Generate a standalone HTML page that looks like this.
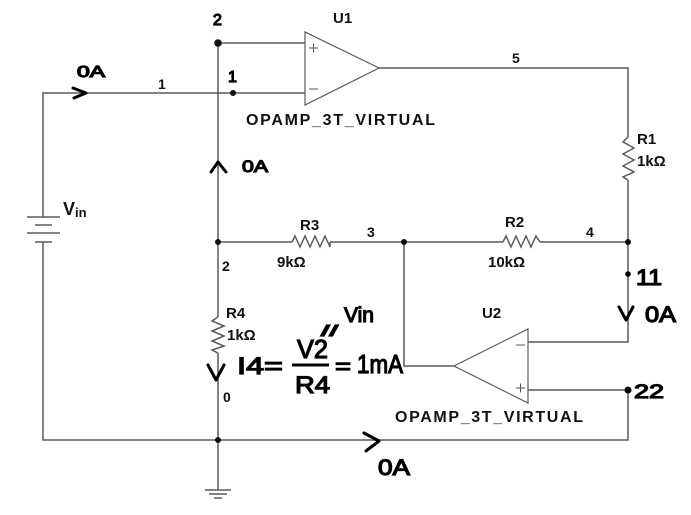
<!DOCTYPE html>
<html>
<head>
<meta charset="utf-8">
<style>
html,body{margin:0;padding:0;background:#fff;}
svg{display:block;}
.w{stroke:#5a5a5a;stroke-width:1.5;fill:none;}
.lbl{font-family:"Liberation Sans",Arial,sans-serif;font-weight:bold;font-size:15px;fill:#111;}
.hw{font-family:"Liberation Sans",Arial,sans-serif;font-weight:normal;fill:#000;stroke:#000;stroke-width:1.2;}
.hp{stroke:#000;stroke-width:3;fill:none;stroke-linecap:round;stroke-linejoin:round;}
</style>
</head>
<body>
<svg width="691" height="515" viewBox="0 0 691 515" xmlns="http://www.w3.org/2000/svg">
<!-- wires -->
<polyline class="w" points="43,217 43,93 305,93"/>
<polyline class="w" points="43,242 43,440 628,440 628,390"/>
<line class="w" x1="218" y1="43" x2="218" y2="317"/>
<line class="w" x1="218" y1="353" x2="218" y2="490"/>
<line class="w" x1="218" y1="43" x2="305" y2="43"/>
<polyline class="w" points="378,68 628,68 628,137"/>
<polyline class="w" points="628,180 628,342 528,342"/>
<line class="w" x1="218" y1="242" x2="292" y2="242"/>
<line class="w" x1="330" y1="242" x2="503" y2="242"/>
<line class="w" x1="540" y1="242" x2="628" y2="242"/>
<polyline class="w" points="404,242 404,366 454,366"/>
<line class="w" x1="528" y1="390" x2="628" y2="390"/>

<!-- resistors -->
<polyline class="w" points="292,242 295,236 300,247 305,236 310,247 315,236 320,247 325,236 330,247 330,242"/>
<polyline class="w" points="503,242 506,236 511,247 516,236 521,247 526,236 531,247 536,236 540,242"/>
<polyline class="w" points="628,137 623,142 634,148 623,154 634,160 623,166 634,172 623,177 628,180"/>
<polyline class="w" points="218,317 212,321 224,326 212,331 224,336 212,341 224,346 212,350 218,353"/>

<!-- battery -->
<line class="w" x1="27" y1="217" x2="60" y2="217"/>
<line class="w" x1="35" y1="225" x2="52" y2="225"/>
<line class="w" x1="27" y1="233" x2="60" y2="233"/>
<line class="w" x1="35" y1="242" x2="52" y2="242"/>

<!-- ground -->
<line class="w" x1="205" y1="490" x2="231" y2="490"/>
<line class="w" x1="209" y1="494" x2="227" y2="494"/>
<line class="w" x1="214" y1="498" x2="222" y2="498"/>

<!-- opamps -->
<polygon class="w" points="305,32 305,105 379,68" style="stroke-width:1.2"/>
<line x1="309" y1="48" x2="318" y2="48" stroke="#555" stroke-width="1"/>
<line x1="313.5" y1="43.5" x2="313.5" y2="52.5" stroke="#555" stroke-width="1"/>
<line x1="309" y1="89" x2="318" y2="89" stroke="#555" stroke-width="1"/>

<polygon class="w" points="528,329 528,403 454,366" style="stroke-width:1.2"/>
<line x1="516" y1="345" x2="525" y2="345" stroke="#555" stroke-width="1"/>
<line x1="516" y1="388" x2="525" y2="388" stroke="#555" stroke-width="1"/>
<line x1="520.5" y1="383.5" x2="520.5" y2="392.5" stroke="#555" stroke-width="1"/>

<!-- dots -->
<circle cx="218" cy="43" r="3.8" fill="#111"/>
<circle cx="233" cy="93" r="3" fill="#111"/>
<circle cx="218" cy="242" r="3" fill="#111"/>
<circle cx="404" cy="242" r="3" fill="#111"/>
<circle cx="628" cy="242" r="3" fill="#111"/>
<circle cx="218" cy="440" r="3" fill="#111"/>
<circle cx="628" cy="274" r="2.8" fill="#000"/>
<circle cx="628" cy="390" r="3.5" fill="#000"/>

<!-- printed labels -->
<text class="lbl" x="333" y="23">U1</text>
<text class="lbl" x="158" y="89" style="font-size:14px">1</text>
<text class="lbl" x="512" y="63" style="font-size:14px">5</text>
<text class="lbl" x="246" y="125" style="font-size:16px" textLength="189" lengthAdjust="spacing">OPAMP_3T_VIRTUAL</text>
<text class="lbl" x="637" y="144">R1</text>
<text class="lbl" x="637" y="166">1kΩ</text>
<text class="lbl" x="300" y="230">R3</text>
<text class="lbl" x="277" y="267">9kΩ</text>
<text class="lbl" x="367" y="237" style="font-size:14px">3</text>
<text class="lbl" x="505" y="227">R2</text>
<text class="lbl" x="488" y="267">10kΩ</text>
<text class="lbl" x="586" y="237" style="font-size:14px">4</text>
<text class="lbl" x="222" y="271" style="font-size:14px">2</text>
<text class="lbl" x="226" y="318">R4</text>
<text class="lbl" x="227" y="340">1kΩ</text>
<text class="lbl" x="223" y="402" style="font-size:14px">0</text>
<text class="lbl" x="482" y="318">U2</text>
<text class="lbl" x="395" y="422" style="font-size:16px" textLength="188" lengthAdjust="spacing">OPAMP_3T_VIRTUAL</text>
<text class="lbl" x="63" y="215" style="font-size:18px">V<tspan style="font-size:13px" dy="2">in</tspan></text>

<!-- handwritten arrows -->
<polyline class="hp" points="73,88 86,93 74,98"/>
<polyline class="hp" points="211,172 218,162 226,172"/>
<polyline class="hp" points="208,365 216,380 224,365"/>
<polyline class="hp" points="619,307 626,320 633,307"/>
<polyline class="hp" points="364,433 379,441 366,451"/>

<!-- handwritten texts -->
<text class="hw" x="77" y="77" style="font-size:16px" textLength="28" lengthAdjust="spacingAndGlyphs">0A</text>
<text class="hw" x="242" y="172" style="font-size:17px" textLength="26" lengthAdjust="spacingAndGlyphs">0A</text>
<text class="hw" x="213" y="25" style="font-size:16px">2</text>
<text class="hw" x="228" y="82" style="font-size:16px">1</text>
<text class="hw" x="636" y="285" style="font-size:22px" textLength="26" lengthAdjust="spacingAndGlyphs">11</text>
<text class="hw" x="645" y="322" style="font-size:22px" textLength="31" lengthAdjust="spacingAndGlyphs">0A</text>
<text class="hw" x="634" y="398" style="font-size:19px" textLength="30" lengthAdjust="spacingAndGlyphs">22</text>
<text class="hw" x="378" y="475" style="font-size:22px" textLength="32" lengthAdjust="spacingAndGlyphs">0A</text>

<text class="hw" x="237" y="374" style="font-size:24px" textLength="46" lengthAdjust="spacingAndGlyphs">I4=</text>
<text class="hw" x="297" y="358" style="font-size:26px" textLength="31" lengthAdjust="spacingAndGlyphs">V2</text>
<line x1="292" y1="365" x2="329" y2="365" stroke="#000" stroke-width="3"/>
<text class="hw" x="295" y="393" style="font-size:24px" textLength="35" lengthAdjust="spacingAndGlyphs">R4</text>
<text class="hw" x="335" y="374" style="font-size:22px" textLength="16" lengthAdjust="spacingAndGlyphs">=</text>
<text class="hw" x="357" y="373" style="font-size:26px" textLength="46" lengthAdjust="spacingAndGlyphs">1mA</text>
<text class="hw" x="321" y="336" style="font-size:15px" textLength="17" lengthAdjust="spacingAndGlyphs">//</text>
<text class="hw" x="344" y="322" style="font-size:21px" textLength="30" lengthAdjust="spacingAndGlyphs">Vin</text>
</svg>
</body>
</html>
